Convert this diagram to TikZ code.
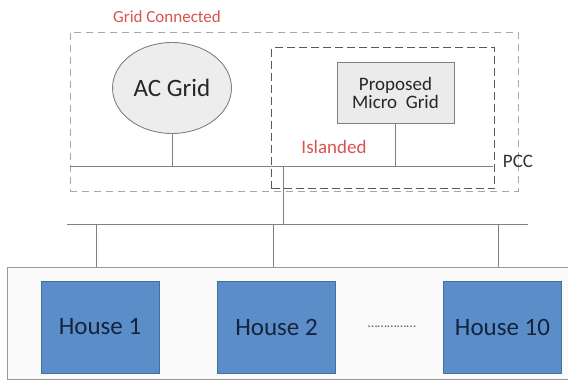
\documentclass[tikz,border=0pt]{standalone}
\usepackage{fontspec}
\setmainfont{Carlito}
\usetikzlibrary{shapes.geometric}
\definecolor{linegray}{HTML}{808080}
\definecolor{redlab}{HTML}{D9534F}
\definecolor{housefill}{HTML}{5B8EC8}
\definecolor{houseedge}{HTML}{41719C}
\definecolor{housetext}{HTML}{15233D}
\tikzset{
  wire/.style={draw=linegray, line width=0.9pt},
  outerbox/.style={draw=black!35, line width=0.9pt, dash pattern=on 7pt off 5pt},
  innerbox/.style={draw=black!65, line width=1.1pt, dash pattern=on 8pt off 4pt},
  house/.style={draw=houseedge, fill=housefill, line width=0.9pt, minimum width=118pt, minimum height=92pt, inner sep=0pt, text=housetext, font=\fontsize{25}{28}\selectfont},
  redlabel/.style={text=redlab, inner sep=0pt},
}
\begin{document}
\begin{tikzpicture}[x=1pt,y=-1pt]
\useasboundingbox[fill=white] (0,0) rectangle (568,382);
% container of houses
\node[draw=black!40, fill=black!2, line width=0.9pt, minimum width=570pt, minimum height=112pt, inner sep=0pt, anchor=north west] (cont) at (7,267) {};
% dashed boxes
\node[outerbox, minimum width=448pt, minimum height=159pt, inner sep=0pt, anchor=north west] (outer) at (70,32) {};
\node[innerbox, minimum width=223pt, minimum height=141pt, inner sep=0pt, anchor=north west] (inner) at (271,47) {};
% labels
\node[redlabel, font=\fontsize{17}{19}\selectfont] (gc) at (167,17) {Grid Connected};
\node[redlabel, font=\fontsize{19}{21}\selectfont] (isl) at (334,147) {Islanded};
\node[inner sep=0pt, font=\fontsize{19}{21}\selectfont, text=black!80] (pcc) at (518,161) {PCC};
% sources
\node[ellipse, draw=black!50, fill=black!7, line width=0.9pt, minimum width=119pt, minimum height=91pt, inner sep=0pt, font=\fontsize{25}{28}\selectfont, text=black!85] (ac) at (172,88) {AC Grid};
\node[draw=black!50, fill=black!8, line width=0.9pt, minimum width=117pt, minimum height=61pt, inner sep=0pt, align=center, font=\fontsize{19}{18}\selectfont, text=black!85] (mg) at (395.5,92.5) {Proposed\\Micro~ Grid};
% buses
\coordinate (b1l) at (70,166);
\coordinate (b1r) at (493,166);
\coordinate (b2l) at (67,224);
\coordinate (b2r) at (528,224);
\draw[wire] (b1l) -- (b1r);
\draw[wire] (b2l) -- (b2r);
\draw[wire] (ac.south) -- (ac.south |- b1l);
\draw[wire] (mg.south) -- (mg.south |- b1l);
\coordinate (tap) at (283,166);
\draw[wire] (tap) -- (tap |- b2l);
% houses
\node[house] (h1) at (100,327) {House 1};
\node[house] (h2) at (276.5,327) {House 2};
\node[house] (h10) at (502.5,327) {House 10};
\node[inner sep=0pt, text=black!60, font=\fontsize{14}{16}\selectfont] (dots) at (392,327) {\dots\dots\dots\dots\dots};
% drops
\coordinate (d1) at (96,224);
\coordinate (d2) at (273,224);
\coordinate (d3) at (498,224);
\draw[wire] (d1) -- (d1 |- cont.north);
\draw[wire] (d2) -- (d2 |- cont.north);
\draw[wire] (d3) -- (d3 |- cont.north);
\end{tikzpicture}
\end{document}
